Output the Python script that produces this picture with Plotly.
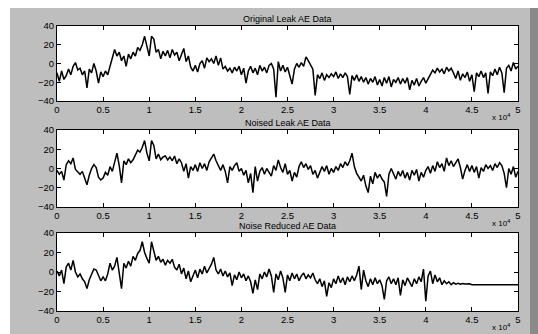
import numpy as np
import plotly.graph_objects as go

# sample positions (x 10^4)
x_vals = [round(i * 0.025, 3) for i in range(201)]

original = [
    -10, -19, -8, -17, -13, -6, -12, -3, 1, -7,
    -5, -12, -8, -26, -6, -10, 0, -8, -21, -9,
    -14, -8, -12, -3, 6, 15, 8, 12, 3, 8,
    -3, 10, 5, 12, 8, 17, 14, 20, 29, 17,
    8, 29, 26, 12, 15, 5, 13, 8, 14, 6,
    15, 9, 12, 3, 10, 16, 2, 8, -4, -8,
    -2, -9, 0, 3, -5, 6, 2, 5, 0, 8,
    -2, 6, -6, -3, -8, -5, -10, -4, -8, -3,
    -12, -5, -21, -8, -3, -10, -5, -12, -2, -8,
    -4, -10, -2, 0, -6, -36, 2, -8, -2, -9,
    -4, -12, -22, -6, 0, -4, 1, -3, 7, 3,
    -2, -6, -34, -12, -16, -10, -18, -12, -15, -11,
    -14, -9, -16, -11, -15, -10, -14, -33, -13, -18,
    -12, -19, -14, -20, -15, -22, -16, -20, -14, -23,
    -17, -24, -15, -21, -14, -25, -17, -20, -15, -22,
    -16, -21, -15, -28, -18, -23, -16, -24, -19, -15,
    -21, -16, -11, -7, -10, -5, -9, -6, -11, -4,
    -8, -5, -10, -16, -8, -18, -11, -15, -9, -19,
    -12, -30, -10, -14, -8, -15, -10, -32, -9, -13,
    -6, -12, -4, -10, -31, -5, -2, -8, 1, -6,
    -3,
]

noised = [
    -2, -6, -3, -12, 4, 8, 5, 11, -1, -4,
    -6, -3, -10, -17, -7, 0, 4, 1, -9, -12,
    -10, -4, -7, 2, -3, 8, 16, 3, -15, 8,
    4, 10, 6, 9, 15, 19, 17, 22, 29, 16,
    8, 29, 24, 10, 15, 9, 12, 13, 9, 12,
    8, 13, 5, 10, 6, -3, 5, -10, 2, -2,
    4, -3, 6, 0, 5, -2, 7, 11, 15, 8,
    3, -2, 4, -3, -15, 2, -2, 3, 6, -3,
    0, -7, -2, -15, -5, -25, 2, -13, -3, 1,
    -6, 0, -4, -8, 3, -2, 9, 1, -4, 5,
    -6, -2, -13, -4, -9, 2, 7, 1, 5, -1,
    3, -6, -2, -10, -4, 2, -3, 3, -6, 0,
    -4, 2, -2, 5, 1, 7, 3, 8, 16, 2,
    -5, -9, -13, -7, -18, -25, -8, -16, -4, -10,
    -6, -11, -14, -29, -6, 0, -5, -11, -3, -8,
    -2, -10, -4, -12, -2, -7, -1, -13, -4, -9,
    -2, 2, -5, 3, -3, 7, 1, 5, -3, 11,
    3, 8, 2, 6, 10, 1, -11, -2, 4, -3,
    3, -4, 2, -10, 1, -3, 4, 0, 3, -2,
    5, 1, 6, 3, -5, -20, 0, -6, 2, -9,
    -3,
]

reduced = [
    1, -4, 2, -12, 5, 9, 2, 12, 0, -5,
    -2, -7, -10, -17, -8, -2, 3, 2, -4, -9,
    -5, -9, -2, 9, 2, 6, 15, 0, -17, 9,
    4, 11, 6, 16, 12, 19, 22, 31, 20, 14,
    9, 31, 22, 12, 16, 10, 13, 7, 12, 9,
    13, 5, 2, 8, -2, 4, -7, 1, -10, -3,
    2, -6, 3, -2, 6, -1, 4, 8, 15, 2,
    -2, 3, -4, 1, -5, -1, -14, -3, -8, 0,
    -6, -2, -9, -4, -10, -22, -8, -18, -2, -7,
    0, -5, 3, -4, -21, -2, -8, 1, -6, -21,
    -3, -9, -1, -7, -2, -9, -4, -1, -7, -3,
    -6, -1, -8, -12, -7, -15, -9, -25, -11, -16,
    -7, -12, -4, -11, -6, -13, -5, -10, -4, -9,
    -3, 6, -18, 2, -9, -15, -7, -13, -6, -12,
    -8, -14, -28, -9, -5, -12, -7, -13, -6, -24,
    -8, -14, -6, -11, -15, -7, -12, -5, -10, 3,
    -30, -4, 1, -12, -3, -10, -6, -13, -9, -12,
    -10, -13, -11, -12.5, -11.5, -12.5, -11.8, -12.3, -12, -12,
    -13, -13, -13, -13, -13, -13, -13, -13, -13, -13,
    -13, -13, -13, -13, -13, -13, -13, -13, -13, -13,
    -13,
]

titles = ["Original Leak AE Data", "Noised Leak AE Data", "Noise Reduced AE Data"]
series = [original, noised, reduced]
x_ticks = [0, 0.5, 1, 1.5, 2, 2.5, 3, 3.5, 4, 4.5, 5]
x_ticktext = ["0", "0.5", "1", "1.5", "2", "2.5", "3", "3.5", "4", "4.5", "5"]
y_ticks = [-40, -20, 0, 20, 40]

W, H = 538, 334
x_dom = [57 / W, 518 / W]
y_px = [(26, 101), (130, 207), (233, 311)]

fig = go.Figure()
FAM = "Liberation Sans, Arial, sans-serif"

layout = dict(
    width=W, height=H,
    margin=dict(l=0, r=0, t=0, b=0, pad=0),
    paper_bgcolor="#bebebe",
    plot_bgcolor="white",
    showlegend=False,
    font=dict(family=FAM, size=10, color="black"),
)

annotations = []
for i, (ys, title) in enumerate(zip(series, titles)):
    n = "" if i == 0 else str(i + 1)
    fig.add_trace(go.Scatter(
        x=x_vals, y=ys, mode="lines",
        line=dict(color="black", width=1.5),
        xaxis="x" + n, yaxis="y" + n,
    ))
    top, bot = y_px[i]
    axis_common = dict(
        showline=True, linecolor="black", linewidth=1, mirror="ticks",
        ticks="inside", ticklen=4, tickcolor="black",
        showgrid=False, zeroline=False, automargin=False,
        tickfont=dict(family=FAM, size=9.5, color="black"),
    )
    layout["xaxis" + n] = dict(
        domain=x_dom, range=[0, 5], anchor="y" + n,
        tickvals=x_ticks, ticktext=x_ticktext, **axis_common,
    )
    layout["yaxis" + n] = dict(
        domain=[1 - bot / H, 1 - top / H], range=[-40, 40], anchor="x" + n,
        tickvals=y_ticks, **axis_common,
    )
    annotations.append(dict(
        text=title, xref="paper", yref="paper",
        x=(x_dom[0] + x_dom[1]) / 2, y=1 - (top - 7) / H,
        xanchor="center", yanchor="middle",
        showarrow=False,
        font=dict(family=FAM, size=9, color="black"),
    ))
    annotations.append(dict(
        text="x 10<sup>4</sup>", xref="paper", yref="paper",
        x=512 / W, y=1 - (bot + 9) / H,
        xanchor="right", yanchor="top",
        showarrow=False,
        font=dict(family=FAM, size=8, color="black"),
    ))

layout["annotations"] = annotations
layout["shapes"] = [
    dict(type="rect", xref="paper", yref="paper", x0=0, x1=1, y0=1 - 8 / H, y1=1,
         fillcolor="white", line=dict(width=0), layer="above"),
    dict(type="rect", xref="paper", yref="paper", x0=0, x1=10 / W, y0=0, y1=1,
         fillcolor="white", line=dict(width=0), layer="above"),
    dict(type="rect", xref="paper", yref="paper", x0=530 / W, x1=1, y0=0, y1=1 - 8 / H,
         fillcolor="#8a8a8a", line=dict(width=0), layer="above"),
]
fig.update_layout(**layout)
fig.write_html(
    "out.html",
    config={"displayModeBar": False},
    post_script="document.body.style.margin='0';document.body.style.padding='0';",
)
